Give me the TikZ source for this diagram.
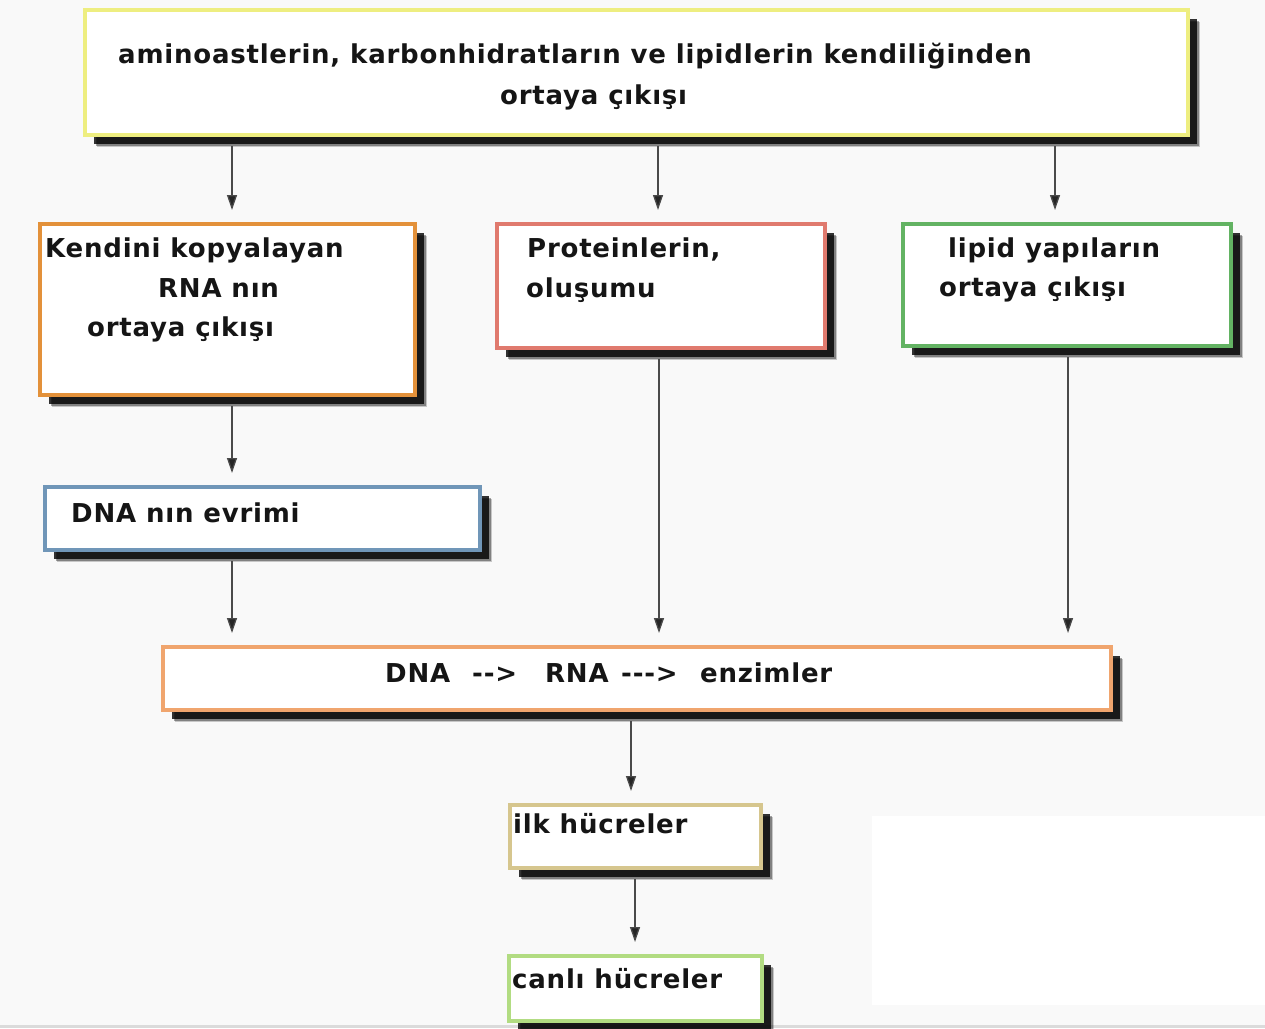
\documentclass[tikz,border=0pt]{standalone}
\usepackage{fontspec}
\setmainfont{DejaVu Sans}
\usetikzlibrary{arrows.meta}
\definecolor{bgc}{HTML}{F9F9F9}
\definecolor{cyel}{HTML}{EEEE80}
\definecolor{cora}{HTML}{E3913A}
\definecolor{cred}{HTML}{E07A6E}
\definecolor{cgrn}{HTML}{63B363}
\definecolor{cblu}{HTML}{7096B8}
\definecolor{cpch}{HTML}{F0A56E}
\definecolor{ckha}{HTML}{D6C68E}
\definecolor{clgr}{HTML}{B2DC82}
\definecolor{txt}{HTML}{151515}
\definecolor{lnc}{HTML}{4A4A4A}
\tikzset{
  box/.style={rectangle, draw=#1, line width=4pt, fill=white, inner sep=0pt,
    preaction={fill=black, opacity=0.2, transform canvas={xshift=12pt,yshift=-12pt}},
    preaction={fill=black, opacity=0.35, transform canvas={xshift=10.5pt,yshift=-10.5pt}},
    preaction={fill=black, opacity=0.8, transform canvas={xshift=8.5pt,yshift=-8.5pt}}},
  lbl/.style={anchor=base west, inner sep=0pt, font=\bfseries\fontsize{26}{30}\selectfont\addfontfeature{LetterSpace=3}, text=txt},
  arr/.style={draw=lnc, line width=1.3pt, -{Triangle[width=10pt,length=15pt,fill=black!85]}, shorten <=9pt, shorten >=12pt}
}
\begin{document}
\begin{tikzpicture}[x=1pt,y=-1pt]
\fill[bgc] (0,0) rectangle (1265,1028);
\useasboundingbox (0,0) rectangle (1265,1028);
\fill[white] (872,816) rectangle (1265,1005);
\fill[black!14] (0,1025) rectangle (1265,1028);

% boxes
\node[box=cyel, minimum width=1103pt, minimum height=125pt] (top) at (636.5,72.5) {};
\node[box=cora, minimum width=375pt, minimum height=171pt] (kop) at (227.5,309.5) {};
\node[box=cred, minimum width=328pt, minimum height=124pt] (pro) at (661,286) {};
\node[box=cgrn, minimum width=328pt, minimum height=122pt] (lip) at (1067,285) {};
\node[box=cblu, minimum width=435pt, minimum height=63pt] (evr) at (262.5,518.5) {};
\node[box=cpch, minimum width=948pt, minimum height=63pt] (enz) at (637,678.5) {};
\node[box=ckha, minimum width=251pt, minimum height=63pt] (ilk) at (635.5,836.5) {};
\node[box=clgr, minimum width=253pt, minimum height=65pt] (can) at (635.5,988.5) {};

% texts
\node[lbl] (t1) at (118,63) {aminoastlerin, karbonhidratların ve lipidlerin kendiliğinden};
\node[lbl] (t2) at (500,104) {ortaya çıkışı};
\node[lbl] (k1) at (45,257) {Kendini kopyalayan};
\node[lbl] (k2) at (158,297) {RNA nın};
\node[lbl] (k3) at (87,336) {ortaya çıkışı};
\node[lbl] (p1) at (527,257) {Proteinlerin,};
\node[lbl] (p2) at (526,297) {oluşumu};
\node[lbl] (l1) at (948,257) {lipid yapıların};
\node[lbl] (l2) at (939,296) {ortaya çıkışı};
\node[lbl] (e1) at (71,522) {DNA nın evrimi};
\node[lbl] (d1) at (385,682) {DNA};
\node[lbl] (d2) at (472,682) {-{}-{}>};
\node[lbl] (d3) at (545,682) {RNA};
\node[lbl] (d4) at (621,682) {-{}-{}-{}>};
\node[lbl] (d5) at (700,682) {enzimler};
\node[lbl] (i1) at (513,833) {ilk hücreler};
\node[lbl] (c1) at (512,988) {canlı hücreler};

% connectors
\draw[arr] (top.south -| 232,0) -- (kop.north -| 232,0);
\draw[arr] (top.south -| 658,0) -- (pro.north -| 658,0);
\draw[arr] (top.south -| 1055,0) -- (lip.north -| 1055,0);
\draw[arr] (kop.south -| 232,0) -- (evr.north -| 232,0);
\draw[arr] (evr.south -| 232,0) -- (enz.north -| 232,0);
\draw[arr] (pro.south -| 659,0) -- (enz.north -| 659,0);
\draw[arr] (lip.south -| 1068,0) -- (enz.north -| 1068,0);
\draw[arr] (enz.south -| 631,0) -- (ilk.north -| 631,0);
\draw[arr] (ilk.south -| 635,0) -- (can.north -| 635,0);
\end{tikzpicture}
\end{document}
